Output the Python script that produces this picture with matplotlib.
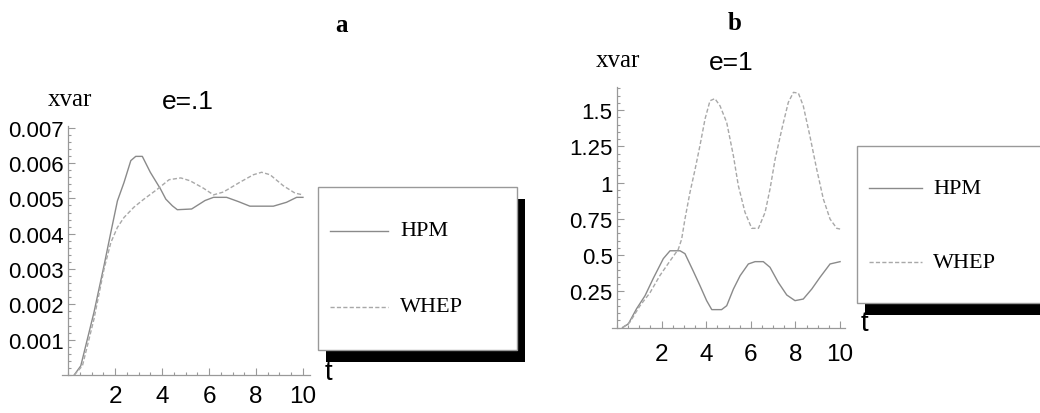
import matplotlib
matplotlib.use("Agg")
import matplotlib.pyplot as plt
from matplotlib.patches import Rectangle
from matplotlib.lines import Line2D
from matplotlib.ticker import MultipleLocator, FixedLocator

# panel a: e=.1
t_hpm_a = [0.26, 0.54, 1.1, 1.53, 1.82, 2.1, 2.38, 2.67, 2.88, 3.16, 3.5, 3.94, 4.16, 4.44, 4.65,
           5.26, 5.83, 6.19, 6.75, 7.25, 7.74, 8.74, 9.3, 9.73, 10.0]
x_hpm_a = [0.0, 0.26, 1.77, 3.1, 4.04, 4.93, 5.45, 6.07, 6.19, 6.19, 5.74, 5.26, 4.98, 4.79, 4.68,
           4.70, 4.94, 5.03, 5.03, 4.91, 4.78, 4.78, 4.89, 5.03, 5.03]
t_whep_a = [0.26, 0.61, 1.1, 1.53, 1.82, 2.1, 2.38, 2.8, 3.23, 3.8, 4.3, 4.8, 5.19, 5.76, 6.19,
            6.61, 7.32, 7.89, 8.24, 8.6, 9.16, 9.66, 10.0]
x_whep_a = [0.0, 0.26, 1.58, 3.0, 3.75, 4.18, 4.46, 4.75, 4.98, 5.26, 5.53, 5.58, 5.5, 5.29, 5.1,
            5.18, 5.46, 5.67, 5.74, 5.67, 5.36, 5.15, 5.1]
x_hpm_a = [v * 1e-3 for v in x_hpm_a]
x_whep_a = [v * 1e-3 for v in x_whep_a]

# panel b: e=1
t_hpm_b = [0.25, 0.51, 0.88, 1.26, 1.63, 2.08, 2.38, 2.83, 3.05, 3.42, 3.72, 4.02, 4.25, 4.69,
           4.92, 5.22, 5.52, 5.89, 6.19, 6.56, 6.86, 7.23, 7.61, 7.98, 8.35, 8.73, 9.1, 9.55, 10.0]
x_hpm_b = [0.0, 0.025, 0.13, 0.22, 0.34, 0.476, 0.53, 0.53, 0.51, 0.39, 0.29, 0.186, 0.124, 0.124,
           0.151, 0.266, 0.358, 0.439, 0.455, 0.455, 0.416, 0.312, 0.225, 0.186, 0.197, 0.266,
           0.347, 0.439, 0.455]
t_whep_b = [0.25, 0.58, 1.03, 1.48, 1.93, 2.38, 2.75, 2.9, 3.05, 3.27, 3.5, 3.72, 3.95, 4.17, 4.39,
            4.62, 4.92, 5.22, 5.44, 5.74, 6.04, 6.34, 6.64, 6.86, 7.09, 7.39, 7.68, 7.91, 8.13,
            8.35, 8.65, 8.95, 9.25, 9.55, 9.85, 10.0]
x_whep_b = [0.0, 0.037, 0.15, 0.24, 0.36, 0.46, 0.54, 0.61, 0.75, 0.93, 1.09, 1.255, 1.44, 1.565,
            1.58, 1.53, 1.415, 1.185, 0.98, 0.795, 0.685, 0.685, 0.795, 0.956, 1.163, 1.37, 1.554,
            1.623, 1.618, 1.53, 1.32, 1.094, 0.887, 0.749, 0.685, 0.68]

xticks = [2, 4, 6, 8, 10]
yticks_a = [0.001, 0.002, 0.003, 0.004, 0.005, 0.006, 0.007]
ylabels_a = ["0.001", "0.002", "0.003", "0.004", "0.005", "0.006", "0.007"]
yticks_b = [0.25, 0.5, 0.75, 1.0, 1.25, 1.5]
ylabels_b = ["0.25", "0.5", "0.75", "1", "1.25", "1.5"]

W, H = 1040, 414
SANS = ["Liberation Sans Narrow", "Liberation Sans", "DejaVu Sans"]
SERIF = ["Liberation Serif", "DejaVu Serif"]
AX_COL = "#999999"
HPM_COL = "#8a8a8a"
WHEP_COL = "#a8a8a8"
WHEP_DASH = (0, (3, 1.6))


def fx(px):
    return px / W


def fy(py):
    return 1 - py / H


def make_axes(fig, rect, xlim, ylim, yticks, ylabels, yminor, xpad):
    ax = fig.add_axes(rect)
    ax.set_xlim(*xlim)
    ax.set_ylim(*ylim)
    for s in ("top", "right"):
        ax.spines[s].set_visible(False)
    for s in ("left", "bottom"):
        ax.spines[s].set_position(("data", 0))
        ax.spines[s].set_color(AX_COL)
        ax.spines[s].set_linewidth(0.9)
    ax.xaxis.set_major_locator(FixedLocator(xticks))
    ax.xaxis.set_minor_locator(MultipleLocator(0.5))
    ax.set_xticklabels([str(v) for v in xticks], family=SANS, fontsize=17.5)
    ax.yaxis.set_major_locator(FixedLocator(yticks))
    ax.yaxis.set_minor_locator(MultipleLocator(yminor))
    ax.set_yticklabels(ylabels, family=SANS, fontsize=16)
    ax.tick_params(axis="both", which="both", direction="in", color=AX_COL, width=0.8)
    ax.tick_params(axis="both", which="major", length=5)
    ax.tick_params(axis="both", which="minor", length=2.5)
    ax.tick_params(axis="x", which="major", pad=xpad)
    ax.tick_params(axis="y", which="major", pad=3)
    ax.patch.set_visible(False)
    return ax


def legend_box(fig, x0, y0, x1, y1, ly1, ly2, lx0, lx1, tx):
    fig.add_artist(Rectangle((fx(x0 + 8), fy(y1 + 12)), fx(x1 - x0), (y1 - y0) / H,
                             transform=fig.transFigure, facecolor="black", edgecolor="none",
                             zorder=5))
    fig.add_artist(Rectangle((fx(x0), fy(y1)), fx(x1 - x0), (y1 - y0) / H,
                             transform=fig.transFigure, facecolor="white", edgecolor=AX_COL,
                             linewidth=1, zorder=6))
    fig.add_artist(Line2D([fx(lx0), fx(lx1)], [fy(ly1), fy(ly1)], transform=fig.transFigure,
                          color=HPM_COL, linewidth=1, zorder=7))
    fig.add_artist(Line2D([fx(lx0), fx(lx1)], [fy(ly2), fy(ly2)], transform=fig.transFigure,
                          color=WHEP_COL, linewidth=1, linestyle=WHEP_DASH, zorder=7))
    fig.text(fx(tx), fy(ly1), "HPM", family=SERIF, fontsize=16, va="center", ha="left", zorder=8)
    fig.text(fx(tx), fy(ly2), "WHEP", family=SERIF, fontsize=16, va="center", ha="left", zorder=8)


fig = plt.figure(figsize=(W / 100, H / 100), dpi=100)
fig.patch.set_facecolor("white")

# panel a
ax1 = make_axes(fig, [fx(62), fy(376), fx(248), 249 / H], (-0.26, 10.3), (0, 0.00705),
                yticks_a, ylabels_a, 0.0002, 7)
ax1.plot(t_hpm_a, x_hpm_a, color=HPM_COL, linewidth=1)
ax1.plot(t_whep_a, x_whep_a, color=WHEP_COL, linewidth=1, linestyle=WHEP_DASH)

# panel b
ax2 = make_axes(fig, [fx(612), fy(328.6), fx(233), 240.6 / H], (-0.22, 10.22), (0, 1.66),
                yticks_b, ylabels_b, 0.05, 11)
ax2.plot(t_hpm_b, x_hpm_b, color=HPM_COL, linewidth=1)
ax2.plot(t_whep_b, x_whep_b, color=WHEP_COL, linewidth=1, linestyle=WHEP_DASH)

# labels
fig.text(fx(70), fy(100), "xvar", family=SERIF, fontsize=18, ha="center", va="center")
fig.text(fx(188), fy(102), "e=.1", family=SANS, fontsize=19, ha="center", va="center")
fig.text(fx(328), fy(373), "t", family=SANS, fontsize=20, ha="center", va="center")
fig.text(fx(618), fy(61), "xvar", family=SERIF, fontsize=18, ha="center", va="center")
fig.text(fx(731), fy(63), "e=1", family=SANS, fontsize=19, ha="center", va="center")
fig.text(fx(864), fy(324), "t", family=SANS, fontsize=20, ha="center", va="center")

fig.text(fx(342), fy(26), "a", family=SERIF, fontsize=18, fontweight="bold", ha="center", va="center")
fig.text(fx(735), fy(24), "b", family=SERIF, fontsize=18, fontweight="bold", ha="center", va="center")

legend_box(fig, 318, 188, 517, 351, 232, 308, 330, 388, 400)
legend_box(fig, 857, 147, 1050, 304, 189, 263, 869, 922, 933)

fig.savefig("out.png", dpi=100, facecolor="white")
